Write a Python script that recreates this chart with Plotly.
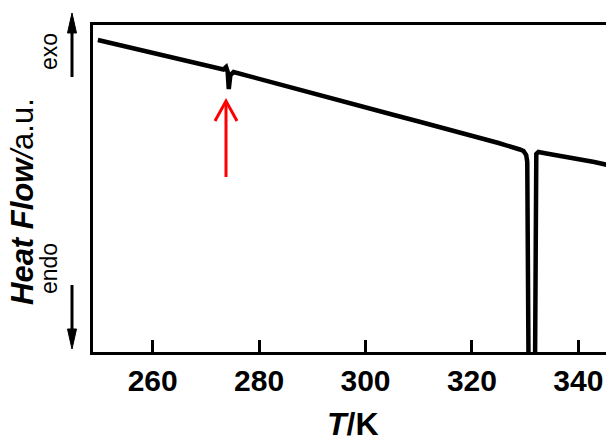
import plotly.graph_objects as go

# ---- data ----
temperature_K = [249.7, 255, 260, 265, 270, 273.3, 273.8, 274.1, 274.3, 274.6, 275.2,
                 280, 285, 290, 295, 300, 305, 310, 315, 320, 325, 329.0, 329.7, 330.2,
                 330.4, 330.7, 331.8, 332.1, 332.5, 334, 337, 340, 343, 345.5]
heat_flow_au = [9.541, 9.343, 9.159, 8.976, 8.777, 8.639, 8.716, 8.563, 8.043, 8.471, 8.563,
                8.349, 8.135, 7.920, 7.691, 7.477, 7.263, 7.049, 6.835, 6.606, 6.391, 6.193,
                6.147, 6.024, 5.810, -2.0, -2.0, 6.055, 6.116, 6.070, 5.994, 5.902, 5.810, 5.719]
x_ticks = [260, 280, 300, 320, 340]
x_range = [248.78, 345.2]
y_range = [0, 10]

W, H = 606, 442
L, R, T, B = 93, 0, 25, 90
PW, PH = W - L - R, H - T - B


def pp(x, y):
    """pixel position -> paper coords"""
    return (x - L) / PW, (H - B - y) / PH


FONT = "Liberation Sans, Arial, sans-serif"

fig = go.Figure()
fig.add_trace(go.Scatter(x=temperature_K, y=heat_flow_au, mode="lines",
                         line=dict(color="black", width=4.5), showlegend=False,
                         hoverinfo="skip"))

shapes = []
annotations = []

# exo arrow (up)
x0, y0 = pp(72, 77); x1, y1 = pp(72, 30)
shapes.append(dict(type="line", xref="paper", yref="paper", x0=x0, y0=y0, x1=x1, y1=y1,
                   line=dict(color="black", width=3)))
a = pp(72, 13); b = pp(67.5, 33); c = pp(76.5, 33)
shapes.append(dict(type="path", xref="paper", yref="paper",
                   path=f"M{a[0]},{a[1]} L{b[0]},{b[1]} L{c[0]},{c[1]} Z",
                   fillcolor="black", line=dict(color="black", width=1)))
# endo arrow (down)
x0, y0 = pp(72, 285); x1, y1 = pp(72, 332)
shapes.append(dict(type="line", xref="paper", yref="paper", x0=x0, y0=y0, x1=x1, y1=y1,
                   line=dict(color="black", width=3)))
a = pp(72, 349); b = pp(67.5, 329); c = pp(76.5, 329)
shapes.append(dict(type="path", xref="paper", yref="paper",
                   path=f"M{a[0]},{a[1]} L{b[0]},{b[1]} L{c[0]},{c[1]} Z",
                   fillcolor="black", line=dict(color="black", width=1)))
# red arrow
x0, y0 = pp(226, 177); x1, y1 = pp(226, 102)
shapes.append(dict(type="line", xref="paper", yref="paper", x0=x0, y0=y0, x1=x1, y1=y1,
                   line=dict(color="#ff0000", width=3)))
a = pp(215, 121); b = pp(226, 101); c = pp(237, 121)
shapes.append(dict(type="path", xref="paper", yref="paper",
                   path=f"M{a[0]},{a[1]} L{b[0]},{b[1]} L{c[0]},{c[1]}",
                   line=dict(color="#ff0000", width=3)))

# texts
ex, ey = pp(49, 52)
annotations.append(dict(text="exo", x=ex, y=ey, xref="paper", yref="paper", showarrow=False,
                        textangle=-90, xanchor="center", yanchor="middle",
                        font=dict(family=FONT, size=23, color="black")))
ex, ey = pp(49, 269)
annotations.append(dict(text="endo", x=ex, y=ey, xref="paper", yref="paper", showarrow=False,
                        textangle=-90, xanchor="center", yanchor="middle",
                        font=dict(family=FONT, size=23, color="black")))
ex, ey = pp(22, 202)
annotations.append(dict(text="<b><i>Heat Flow</i></b><i>/</i>a.u.", x=ex, y=ey,
                        xref="paper", yref="paper",
                        showarrow=False, textangle=-90, xanchor="center", yanchor="middle",
                        font=dict(family=FONT, size=31, color="black")))
ex, ey = pp(353, 424)
annotations.append(dict(text="<b><i>T</i>/K</b>", x=ex, y=ey, xref="paper", yref="paper",
                        showarrow=False, xanchor="center", yanchor="middle",
                        font=dict(family=FONT, size=32, color="black")))

fig.update_layout(
    width=W, height=H,
    margin=dict(l=L, r=R, t=T, b=B, pad=0),
    paper_bgcolor="white", plot_bgcolor="white",
    shapes=shapes, annotations=annotations,
    xaxis=dict(range=x_range, tickmode="array", tickvals=x_ticks,
               ticktext=[f"<b>{v}</b>" for v in x_ticks],
               ticks="inside", ticklen=12, tickwidth=3, tickcolor="black",
               showline=True, linewidth=3, linecolor="black", mirror=True,
               showgrid=False, zeroline=False,
               tickfont=dict(family=FONT, size=30, color="black")),
    yaxis=dict(range=y_range, showticklabels=False, ticks="",
               showline=True, linewidth=3, linecolor="black", mirror=False,
               showgrid=False, zeroline=False),
)

fig.write_html("out.html")
